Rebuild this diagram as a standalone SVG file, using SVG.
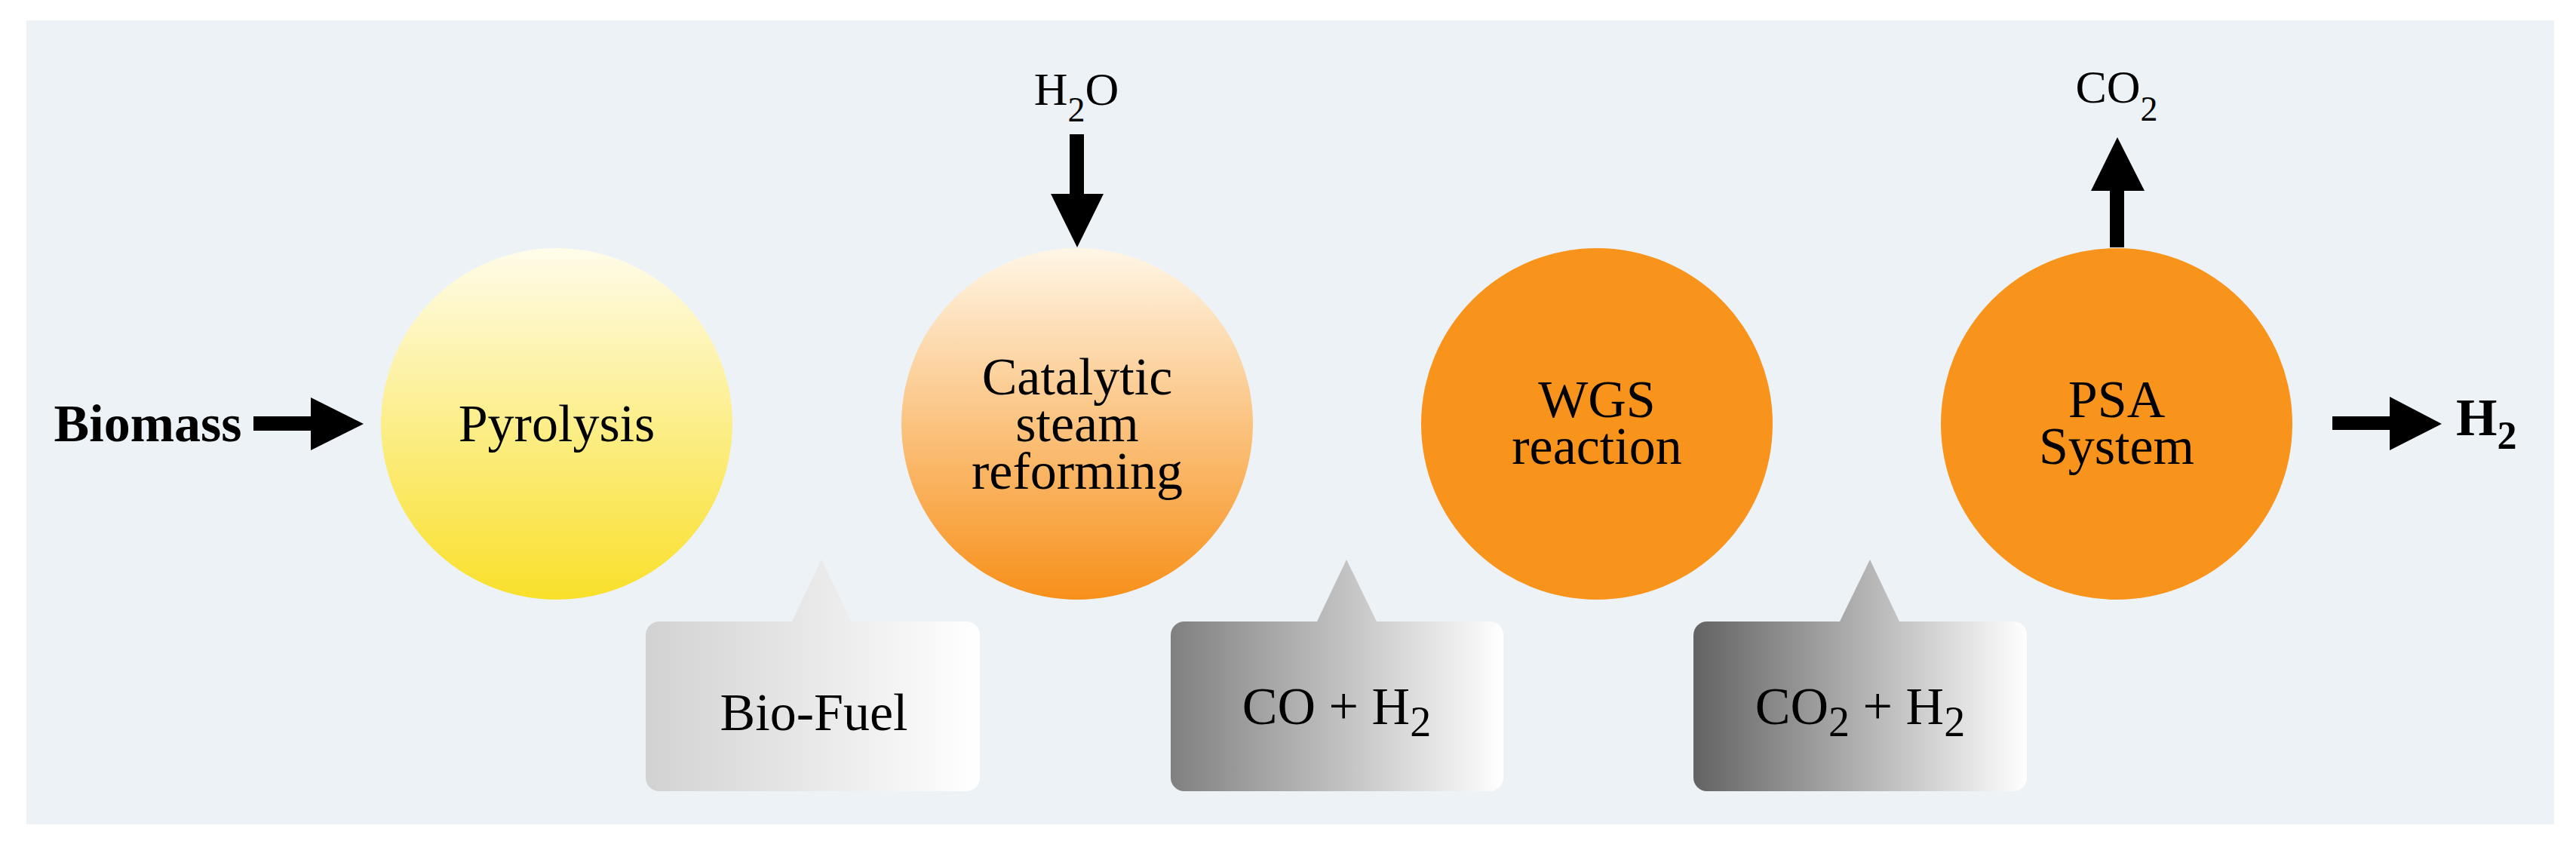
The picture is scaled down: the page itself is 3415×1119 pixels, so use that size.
<svg xmlns="http://www.w3.org/2000/svg" width="3415" height="1119" viewBox="0 0 3415 1119">
<style>
text{font-family:"Liberation Serif","Times New Roman",serif;fill:#000;text-anchor:middle}
.n{font-size:70px}
.b{font-size:70px;font-weight:bold}
.st{text-anchor:start}
.s{font-size:62px}
.arr{fill:#000}
</style>
<defs>
<linearGradient id="gy" x1="0" y1="0" x2="0" y2="1"><stop offset="0" stop-color="#fffcea"/><stop offset="1" stop-color="#f9e02a"/></linearGradient>
<linearGradient id="go" x1="0" y1="0" x2="0" y2="1"><stop offset="0" stop-color="#fff6e6"/><stop offset="1" stop-color="#f7901a"/></linearGradient>
<linearGradient id="g1" gradientUnits="userSpaceOnUse" x1="856" y1="0" x2="1299" y2="0"><stop offset="0" stop-color="#d2d2d2"/><stop offset="1" stop-color="#ffffff"/></linearGradient>
<linearGradient id="g2" gradientUnits="userSpaceOnUse" x1="1552" y1="0" x2="1993" y2="0"><stop offset="0" stop-color="#808080"/><stop offset="1" stop-color="#ffffff"/></linearGradient>
<linearGradient id="g3" gradientUnits="userSpaceOnUse" x1="2245" y1="0" x2="2687" y2="0"><stop offset="0" stop-color="#636363"/><stop offset="1" stop-color="#ffffff"/></linearGradient>
</defs>
<rect x="35" y="27" width="3351" height="1066" fill="#edf2f7"/>
<g id="connectors">
<path class="arr" d="M336 552H412V527L482 562L412 597V571H336Z"/>
<path class="arr" d="M1418 178H1437V257H1463L1428 328L1393 257H1418Z"/>
<path class="arr" d="M2797 328V253H2772L2807 182L2843 253H2816V328Z"/>
<path class="arr" d="M3092 552H3168V526L3237 562L3168 597V570H3092Z"/>
</g>
<g id="biomass"><text class="b" x="196" y="585">Biomass</text></g>
<g id="h2o"><text class="s" x="1427" y="139">H<tspan dy="22" font-size="46">2</tspan><tspan dy="-22">O</tspan></text></g>
<g id="co2out"><text class="s" x="2806" y="136">CO<tspan dy="24" font-size="46">2</tspan></text></g>
<g id="h2out"><text class="b st" x="3256" y="577">H<tspan dy="18" font-size="52">2</tspan></text></g>
<g id="pyrolysis"><circle cx="738" cy="562" r="233" fill="url(#gy)"/><text class="n" x="738" y="585">Pyrolysis</text></g>
<g id="catalytic"><circle cx="1428" cy="562" r="233" fill="url(#go)"/><text class="n" x="1428" y="523">Catalytic</text><text class="n" x="1428" y="585">steam</text><text class="n" x="1428" y="648">reforming</text></g>
<g id="wgs"><circle cx="2117" cy="562" r="233" fill="#f8941c"/><text class="n" x="2117" y="553">WGS</text><text class="n" x="2117" y="615">reaction</text></g>
<g id="psa"><circle cx="2806" cy="562" r="233" fill="#f8941c"/><text class="n" x="2806" y="553">PSA</text><text class="n" x="2806" y="615">System</text></g>
<g id="biofuel"><path d="M1049 826L1089 742L1130 826Z" fill="url(#g1)"/><rect x="856" y="824" width="443" height="225" rx="18" fill="url(#g1)"/><text class="n" x="1079" y="968">Bio-Fuel</text></g>
<g id="coh2"><path d="M1745 826L1785 742L1826 826Z" fill="url(#g2)"/><rect x="1552" y="824" width="441" height="225" rx="18" fill="url(#g2)"/><text class="n" x="1772" y="960">CO + H<tspan dy="16" font-size="56">2</tspan></text></g>
<g id="co2h2"><path d="M2438 826L2479 742L2519 826Z" fill="url(#g3)"/><rect x="2245" y="824" width="442" height="225" rx="18" fill="url(#g3)"/><text class="n" x="2466" y="960">CO<tspan dy="16" font-size="56">2</tspan><tspan dy="-16"> + H</tspan><tspan dy="16" font-size="56">2</tspan></text></g>
</svg>
